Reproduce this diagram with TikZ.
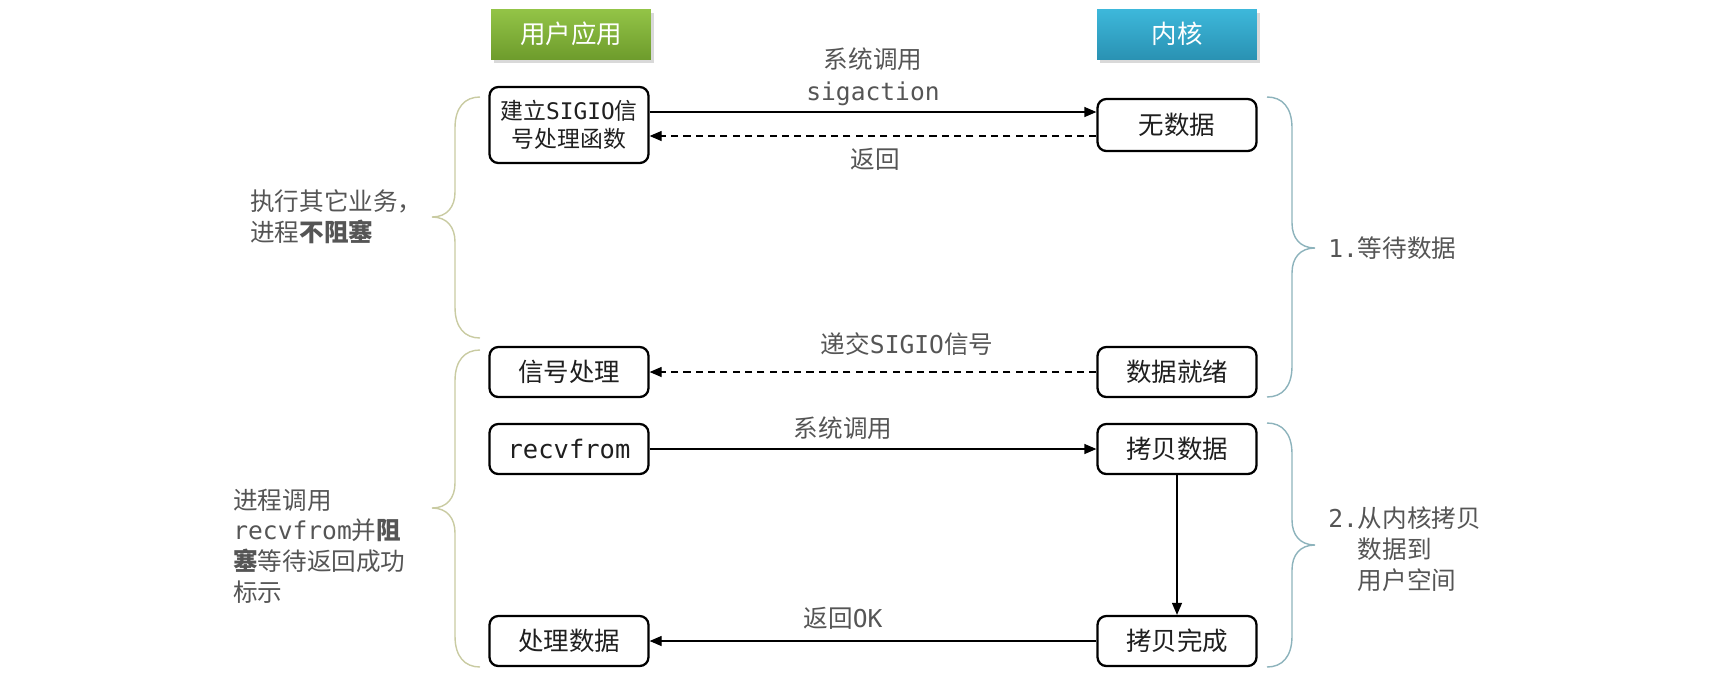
\documentclass[tikz,border=0pt]{standalone}
\usepackage{fontspec}
\setmainfont{Noto Sans CJK SC}
\newfontfamily\monofnt{DejaVu Sans Mono}
\newcommand{\mtxt}[1]{{\monofnt #1}}
\usepackage{xcolor}
\usetikzlibrary{arrows.meta,positioning,shadows}

\definecolor{usertop}{HTML}{93C447}
\definecolor{userbot}{HTML}{6E9C2C}
\definecolor{kerntop}{HTML}{3DB8DB}
\definecolor{kernbot}{HTML}{2A92B3}
\definecolor{greybrace}{HTML}{C9CBA2}
\definecolor{bluebrace}{HTML}{8DB3BC}
\definecolor{lbltext}{HTML}{555555}

\begin{document}
\begin{tikzpicture}[x=0.02cm, y=-0.02cm,
  box/.style={rectangle, rounded corners=5pt, draw=black, line width=1.3pt,
              fill=white, minimum width=3.18cm, minimum height=1.0cm,
              align=center, text=black!88,
              font=\fontsize{14.5pt}{16pt}\selectfont},
  head/.style={rectangle, minimum width=3.2cm, minimum height=1.0cm,
               text=white, font=\fontsize{14.5pt}{16pt}\selectfont,
               drop shadow={opacity=0.3, shadow xshift=0.6mm, shadow yshift=-0.8mm}},
  arrow/.style={-{Triangle[length=2.4mm,width=2mm]}, line width=0.7pt},
  back/.style={arrow, dash pattern=on 4pt off 3pt},
  lbl/.style={text=lbltext, align=center,
              font=\fontsize{14pt}{18.5pt}\selectfont},
  side/.style={text=lbltext, align=left, anchor=west, inner sep=0pt,
               font=\fontsize{14pt}{17.5pt}\selectfont},
  lbrace/.style={draw=greybrace, line width=0.8pt},
  rbrace/.style={draw=bluebrace, line width=0.8pt}
]
\useasboundingbox (0,0) rectangle (1721,684);

% column headers
\node[head, top color=usertop, bottom color=userbot] (huser) at (571,34) {用户应用};
\node[head, top color=kerntop, bottom color=kernbot] (hkern) at (1177,34) {内核};

% user side
\node[box, minimum height=1.52cm, font=\fontsize{13pt}{15.8pt}\selectfont]
      (setup) at (569,125) {建立\mtxt{SIGIO}信\\号处理函数};
\node[box] (sighand) at (569,372) {信号处理};
\node[box] (recv)    at (569,449) {\mtxt{recvfrom}};
\node[box] (proc)    at (569,641) {处理数据};

% kernel side
\node[box, minimum height=1.04cm] (nodata) at (1177,125) {无数据};
\node[box] (ready)  at (1177,372) {数据就绪};
\node[box] (copy)   at (1177,449) {拷贝数据};
\node[box] (done)   at (1177,641) {拷贝完成};

% messages
\draw[arrow] ([yshift=0.26cm]setup.east) -- ([yshift=0.26cm]nodata.west);
\draw[back]  ([yshift=-0.22cm]nodata.west) -- ([yshift=-0.22cm]setup.east);
\draw[back]  (ready) -- (sighand);
\draw[arrow] (recv) -- (copy);
\draw[arrow] (copy) -- (done);
\draw[arrow] (done) -- (proc);

\node[lbl] (lcall)  at (873,77)  {系统调用\\\mtxt{sigaction}};
\node[lbl] (lret)   at (875,159) {返回};
\node[lbl] (lsig)   at (907,344) {递交\mtxt{SIGIO}信号};
\node[lbl] (lcall2) at (843,428) {系统调用};
\node[lbl] (lok)    at (843,618) {返回\mtxt{OK}};

% braces
\draw[lbrace] (480,97) .. controls (465,97) and (455,107) .. (455,128) -- (455,192)
  .. controls (455,207) and (447,217) .. (432,217)
  .. controls (447,217) and (455,227) .. (455,242) -- (455,307)
  .. controls (455,328) and (465,338) .. (480,338);
\draw[lbrace] (480,350) .. controls (465,350) and (455,360) .. (455,381) -- (455,483)
  .. controls (455,498) and (447,508) .. (432,508)
  .. controls (447,508) and (455,518) .. (455,533) -- (455,636)
  .. controls (455,657) and (465,667) .. (480,667);
\draw[rbrace] (1267,97) .. controls (1282,97) and (1292,107) .. (1292,128) -- (1292,223)
  .. controls (1292,238) and (1300,248) .. (1315,248)
  .. controls (1300,248) and (1292,258) .. (1292,273) -- (1292,366)
  .. controls (1292,387) and (1282,397) .. (1267,397);
\draw[rbrace] (1267,423) .. controls (1282,423) and (1292,433) .. (1292,454) -- (1292,520)
  .. controls (1292,535) and (1300,545) .. (1315,545)
  .. controls (1300,545) and (1292,555) .. (1292,570) -- (1292,636)
  .. controls (1292,657) and (1282,667) .. (1267,667);

% side notes
\node[side] (nblock) at (250,217) {执行其它业务，\\进程\textbf{不阻塞}};
\node[side] (nwait)  at (233,546) {进程调用\\\mtxt{recvfrom}并\textbf{阻}\\\textbf{塞}等待返回成功\\标示};
\node[side] (step1)  at (1328,248) {\mtxt{1.}等待数据};
\node[side] (step2)  at (1328,549) {\mtxt{2.}从内核拷贝\\\phantom{\mtxt{2.}}数据到\\\phantom{\mtxt{2.}}用户空间};
\end{tikzpicture}
\end{document}
